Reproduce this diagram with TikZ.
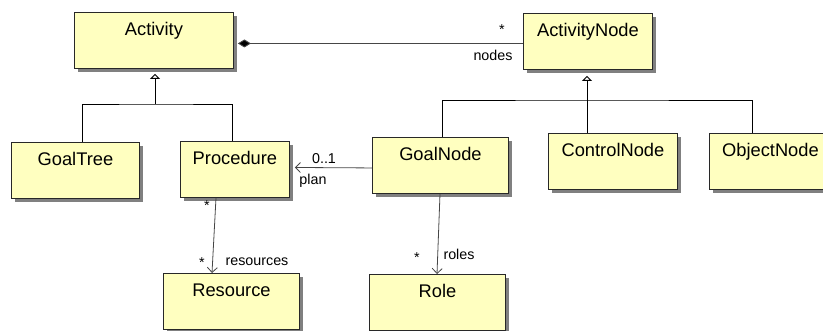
\documentclass[tikz,border=0pt]{standalone}
\usepackage{fontspec}
\setmainfont{Liberation Sans}
\usetikzlibrary{arrows.meta}
\definecolor{boxfill}{RGB}{255,255,192}
\definecolor{boxline}{RGB}{40,40,40}
\definecolor{shadecol}{RGB}{128,128,128}
\definecolor{assocline}{RGB}{70,70,70}
\tikzset{
  classbox/.style={draw=boxline, fill=boxfill, line width=0.9pt, anchor=north west,
    font=\fontsize{18.3}{20}\selectfont, text height=13pt, text depth=22pt,
    inner xsep=0pt, inner ysep=10.5pt},
  shadebox/.style={fill=shadecol, draw=none, anchor=north west, inner sep=0pt, outer sep=0pt,
    minimum height=56pt},
  genline/.style={draw=black, line width=0.9pt},
  genarrow/.style={genline, -{Triangle[open, length=5pt, width=10pt]}},
  composition/.style={draw=assocline, line width=0.9pt, {Diamond[length=13pt, width=8pt, fill=black]}-},
  nav/.style={draw=assocline, line width=0.8pt, -{Straight Barb[length=5pt, width=10pt]}},
  smalllab/.style={font=\fontsize{14.3}{16}\selectfont, inner sep=0pt}
}
\begin{document}
\begin{tikzpicture}[x=1pt, y=-1pt]
\useasboundingbox (0,0) rectangle (823,331);
% shadows
\node[shadebox, minimum width=159pt] (ActivityS) at (78,16) {};
\node[shadebox, minimum width=129pt] (ActivityNodeS) at (527,17) {};
\node[shadebox, minimum width=128pt] (GoalTreeS) at (15,146) {};
\node[shadebox, minimum width=109pt] (ProcedureS) at (184,145) {};
\node[shadebox, minimum width=136pt] (GoalNodeS) at (376,141) {};
\node[shadebox, minimum width=129pt] (ControlNodeS) at (552,137) {};
\node[shadebox, minimum width=122pt] (ObjectNodeS) at (713,137) {};
\node[shadebox, minimum width=136pt] (ResourceS) at (167,277) {};
\node[shadebox, minimum width=136pt] (RoleS) at (373,278) {};
% classes
\node[classbox, minimum width=159pt] (Activity) at (74,12) {Activity};
\node[classbox, minimum width=129pt] (ActivityNode) at (523,13) {ActivityNode};
\node[classbox, minimum width=128pt] (GoalTree) at (11,142) {GoalTree};
\node[classbox, minimum width=109pt] (Procedure) at (180,141) {Procedure};
\node[classbox, minimum width=136pt] (GoalNode) at (372,137) {GoalNode};
\node[classbox, minimum width=129pt] (ControlNode) at (548,133) {ControlNode};
\node[classbox, minimum width=122pt] (ObjectNode) at (709,133) {ObjectNode};
\node[classbox, minimum width=136pt] (Resource) at (163,273) {Resource};
\node[classbox, minimum width=136pt] (Role) at (369,274) {Role};
% generalization: Activity
\coordinate (joinA) at (155,104);
\draw[genline] ([xshift=71pt]GoalTree.north west) |- (joinA) -| ([xshift=52pt]Procedure.north west);
\draw[genarrow, shorten >=5pt] (joinA) -- (joinA |- Activity.south);
% generalization: ActivityNode
\coordinate (joinB) at (587,100);
\draw[genline] ([xshift=70pt]GoalNode.north west) |- (joinB) -| ([xshift=43pt]ObjectNode.north west);
\draw[genline] ([xshift=39pt]ControlNode.north west) -- (joinB);
\draw[genarrow, shorten >=6pt] (joinB) -- (joinB |- ActivityNode.south);
% composition
\draw[composition, shorten <=4pt] ([yshift=-3pt]Activity.east) -- ([yshift=-2pt]ActivityNode.west);
\node[smalllab] (compStar) at (502,30) {*};
\node[smalllab] (compNodes) at (493,55) {nodes};
% GoalNode -> Procedure
\draw[nav, shorten >=5pt] ([yshift=-2.5pt]GoalNode.west) -- ([yshift=2pt]Procedure.east);
\node[smalllab] (planMult) at (324,159) {0..1};
\node[smalllab] (planLab) at (313,181) {plan};
% Procedure -> Resource
\draw[nav] ([xshift=36pt]Procedure.south west) -- ([xshift=49pt]Resource.north west);
\node[smalllab] (resStar1) at (207,206) {*};
\node[smalllab] (resStar2) at (202,263) {*};
\node[smalllab] (resLab) at (257,262) {resources};
% GoalNode -> Role
\draw[nav] ([xshift=68pt]GoalNode.south west) -- ([xshift=68pt]Role.north west);
\node[smalllab] (roleStar) at (417,258) {*};
\node[smalllab] (roleLab) at (459,254) {roles};
\end{tikzpicture}
\end{document}
